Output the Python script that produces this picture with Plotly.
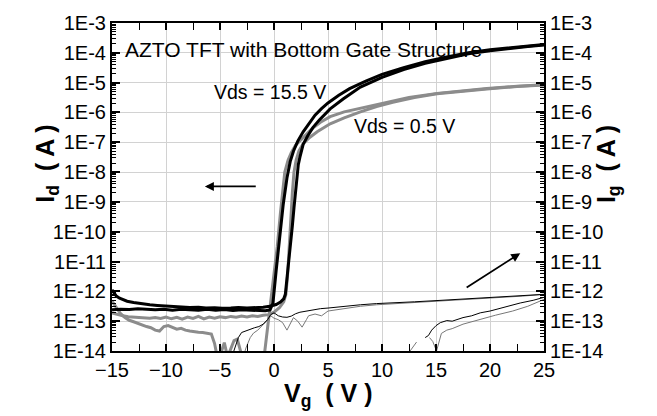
import numpy as np
import plotly.graph_objects as go

# gate voltage (V) and log10 of current (A)

# Id, Vds = 15.5 V, branch with the bump near 1 V (shifted right)
vg_hi_a = [-15, -14.8, -14.6, -14.3, -14.0, -13.6, -13.0, -12.3, -11.5, -10.8, -10.0, -9.3,
           -8.5, -7.8, -7.0, -6.3, -5.5, -4.8, -4.0, -3.3, -2.5, -1.8, -1.0, -0.4, 0.2, 0.6,
           0.9, 1.05, 1.2, 1.35, 1.5, 1.7, 1.85, 2.0, 2.1, 2.25, 2.4, 2.7, 3.1, 3.6, 4.2, 5.2,
           6.4, 8.0, 10.0, 12.0, 14.0, 16.0, 18.0, 20.0, 22.0, 23.5, 25.0]
log_id_hi_a = [-11.95, -12.08, -12.16, -12.23, -12.28, -12.33, -12.37, -12.41, -12.45, -12.47,
               -12.49, -12.51, -12.52, -12.54, -12.53, -12.56, -12.55, -12.57, -12.56, -12.54,
               -12.56, -12.55, -12.53, -12.5, -12.44, -12.36, -12.25, -12.1, -11.6, -11.0,
               -10.5, -9.8, -9.2, -8.6, -8.15, -7.75, -7.5, -7.07, -6.8, -6.51, -6.25, -5.88,
               -5.55, -5.15, -4.82, -4.56, -4.35, -4.18, -4.03, -3.93, -3.84, -3.79, -3.74]

# Id, Vds = 15.5 V, branch turning on first (shifted left)
vg_hi_b = [-15, -14.2, -13.4, -12.6, -11.8, -11.0, -10.2, -9.4, -8.6, -7.8, -7.0, -6.2, -5.4,
           -4.6, -3.8, -3.0, -2.2, -1.4, -0.8, -0.37, -0.1, 0.2, 0.5, 0.85, 1.2, 1.5, 1.8,
           2.2, 2.7, 3.2, 3.8, 4.4, 5.0, 6.0, 7.0, 8.5, 10.0, 12.0, 14.0, 16.0, 18.0, 20.0,
           22.0, 23.5, 25.0]
log_id_hi_b = [-12.62, -12.6, -12.61, -12.58, -12.6, -12.62, -12.6, -12.63, -12.6, -12.62,
               -12.63, -12.6, -12.63, -12.61, -12.64, -12.62, -12.63, -12.64, -12.65, -12.62,
               -12.4, -11.3, -10.2, -9.1, -8.2, -7.65, -7.3, -6.96, -6.65, -6.4, -6.09, -5.87,
               -5.68, -5.42, -5.2, -4.95, -4.72, -4.5, -4.3, -4.14, -4.0, -3.9, -3.82, -3.77,
               -3.72]

# Id, Vds = 0.5 V, branch dropping into the noise floor
vg_lo_a = [-15, -14.6, -14.2, -13.8, -13.4, -13.0, -12.6, -12.2, -11.8, -11.4, -11.0, -10.6,
           -10.2, -9.8, -9.4, -9.0, -8.6, -8.2, -7.8, -7.4, -7.0, -6.6, -6.2, -5.8, -5.5,
           -5.2, -4.9, -4.6, -4.3, -4.0, -3.7, -3.4, -3.1, -2.8, -2.0, -1.1, -0.85, -0.4,
           0.0, 0.3, 0.6, 1.0, 1.3, 1.6, 2.0, 2.7, 3.5, 4.3, 5.2, 6.5, 8.0, 10.4, 12.5, 15.1,
           17.5, 19.7, 22.5, 25.0]
log_id_lo_a = [-12.33, -12.55, -12.75, -12.88, -12.97, -13.02, -13.08, -13.12, -13.18, -13.22,
               -13.3, -13.33, -13.18, -13.15, -13.22, -13.27, -13.24, -13.3, -13.33, -13.36,
               -13.37, -13.38, -13.4, -13.43, -13.75, -14.3, -14.05, -13.72, -14.2, -13.9,
               -13.65, -13.6, -13.95, -14.4, -14.6, -14.8, -14.0, -12.7, -11.5, -10.5, -9.35,
               -8.0, -7.6, -7.35, -7.1, -6.84, -6.55, -6.33, -6.14, -5.98, -5.86, -5.66, -5.5,
               -5.36, -5.27, -5.2, -5.12, -5.07]

# Id, Vds = 0.5 V, flat branch with the bump near 1 V
vg_lo_b = [-15, -14.5, -14, -13.5, -13, -12.5, -12, -11.5, -11, -10.5, -10, -9.5, -9, -8.5,
           -8, -7.5, -7, -6.5, -6, -5.5, -5, -4.5, -4, -3.5, -3, -2.5, -2, -1.5, -1, -0.5,
           0, 0.5, 0.9, 1.1, 1.25, 1.4, 1.55, 1.7, 1.85, 2.05, 2.3, 2.7, 3.3, 4.0, 5.2, 6.5,
           8.0, 9.5, 11.0, 13.0, 15.1, 17.5, 19.7, 22.5, 25.0]
log_id_lo_b = [-12.72, -12.78, -12.82, -12.85, -12.86, -12.88, -12.87, -12.9, -12.88, -12.91,
               -12.86, -12.92, -12.87, -12.93, -12.86, -12.91, -12.84, -12.92, -12.86, -12.9,
               -12.85, -12.88, -12.84, -12.87, -12.83, -12.86, -12.82, -12.84, -12.8, -12.78,
               -12.7, -12.55, -12.35, -12.1, -11.5, -10.5, -9.5, -8.7, -8.0, -7.6, -7.3,
               -7.05, -6.84, -6.65, -6.38, -6.18, -5.98, -5.8, -5.66, -5.5, -5.37, -5.28,
               -5.21, -5.13, -5.08]

# Ig, upper pair (black and gray)
vg_ig_a = [-4.0, -3.7, -3.3, -3.0, -2.6, -2.2, -1.8, -1.4, -1.0, -0.6, -0.3, 0.0, 0.4, 0.8,
           1.2, 1.6, 2.0, 2.4, 3.0, 3.6, 4.3, 5.0, 6.0, 7.0, 8.0, 9.5, 11, 13, 15, 17, 19,
           21, 23, 25]
log_ig_a = [-14.3, -13.95, -13.55, -13.38, -13.32, -13.28, -13.22, -13.18, -13.1, -12.95,
            -12.78, -12.72, -12.82, -12.86, -12.87, -12.83, -12.75, -12.7, -12.66, -12.62,
            -12.58, -12.56, -12.52, -12.48, -12.45, -12.41, -12.39, -12.35, -12.31, -12.27,
            -12.23, -12.19, -12.15, -12.1]
vg_ig_b = [-3.0, -2.6, -2.2, -1.9, -1.5, -1.0, -0.65, -0.3, 0.0, 0.4, 0.8, 1.2, 1.5, 1.8,
           2.2, 2.6, 3.0, 3.2, 3.8, 4.4, 5.0, 6.0, 7.0, 8.0, 9.5, 11, 13, 15, 17, 19, 21,
           23, 25]
log_ig_b = [-14.4, -13.9, -13.55, -13.4, -13.3, -13.12, -12.98, -12.82, -12.9, -12.95,
            -13.05, -13.3, -13.1, -12.88, -13.0, -13.2, -12.95, -12.82, -12.76, -12.82,
            -12.66, -12.6, -12.55, -12.5, -12.45, -12.42, -12.38, -12.34, -12.3, -12.26,
            -12.21, -12.16, -12.1]

# Ig, lower pair (black and gray); nan marks a gap in the trace
vg_ig_c = [14.0, 14.3, 14.6, 15.0, 15.4, 16.0, 16.5, 17.0, 17.5, 18.3, 19.1, 20.0, 20.6,
           21.5, 22.8, 24.0, 25.0]
log_ig_c = [-13.55, -13.48, -13.3, -13.15, -13.05, -12.98, -13.0, -12.93, -12.88, -12.82,
            -12.72, -12.66, -12.6, -12.5, -12.39, -12.3, -12.2]
vg_ig_d = [12.6, 13.2, np.nan, 14.4, 14.7, 15.05, 15.5, 16.0, 16.5, 17.5, 18.5, 19.1, 20.5,
           22.1, 23.5, 25.0]
log_ig_d = [-14.0, -13.7, np.nan, -13.55, -13.68, -14.0, -13.41, -13.3, -13.25, -13.1, -13.0,
            -12.92, -12.8, -12.66, -12.5, -12.27]

decades = list(range(-14, -2))
tick_text = [f"1E{d}" for d in decades]

FONT = "Liberation Sans, Arial, sans-serif"
GRAY = "#8c8c8c"


def amps(logs):
    return np.power(10.0, np.array(logs, dtype=float))


fig = go.Figure()

for vg, li in [(vg_lo_a, log_id_lo_a), (vg_lo_b, log_id_lo_b)]:
    fig.add_trace(go.Scatter(x=vg, y=amps(li), mode="lines",
                             line=dict(color=GRAY, width=3)))
for vg, li in [(vg_hi_a, log_id_hi_a), (vg_hi_b, log_id_hi_b)]:
    fig.add_trace(go.Scatter(x=vg, y=amps(li), mode="lines",
                             line=dict(color="black", width=3)))
for vg, li, col in [(vg_ig_b, log_ig_b, "#777777"), (vg_ig_d, log_ig_d, "#777777"),
                    (vg_ig_a, log_ig_a, "black"), (vg_ig_c, log_ig_c, "black")]:
    fig.add_trace(go.Scatter(x=vg, y=amps(li), mode="lines", yaxis="y2",
                             line=dict(color=col, width=1)))

minor_vals = [k * 10.0 ** d for d in range(-14, -3) for k in range(2, 10)]
yax = dict(
    type="log", range=[-14, -3],
    tickmode="array", tickvals=[10.0 ** d for d in decades], ticktext=tick_text,
    ticks="inside", ticklen=8, tickwidth=1.5, tickcolor="black",
    showline=True, linewidth=2, linecolor="black",
    showgrid=True, gridcolor="#d2d2d2", gridwidth=1,
    minor=dict(tickmode="array", tickvals=minor_vals, ticks="inside", ticklen=4,
               tickwidth=1, tickcolor="black", showgrid=False),
    tickfont=dict(family=FONT, size=20, color="black"),
    zeroline=False,
)

fig.update_layout(
    width=657, height=416,
    margin=dict(l=112, r=113, t=16, b=65),
    paper_bgcolor="white", plot_bgcolor="white",
    showlegend=False,
    font=dict(family=FONT, color="black"),
    xaxis=dict(
        range=[-15, 25], tick0=-15, dtick=5,
        ticks="inside", ticklen=7, tickwidth=1.5, tickcolor="black",
        showline=True, linewidth=2, linecolor="black", mirror="allticks",
        showgrid=True, gridcolor="#d2d2d2", gridwidth=1, zeroline=False,
        minor=dict(dtick=2.5, ticks="inside", ticklen=4, tickwidth=1,
                   tickcolor="black", showgrid=False),
        tickfont=dict(family=FONT, size=20, color="black"),
    ),
    yaxis=yax,
    yaxis2=dict(yax, overlaying="y", side="right", showgrid=False),
)

fig.add_annotation(text="AZTO TFT with Bottom Gate Structure", x=-13.95, y=-3.9,
                   xanchor="left", showarrow=False, font=dict(size=21))
fig.add_annotation(text="Vds = 15.5 V", x=-5.7, y=-5.3,
                   xanchor="left", showarrow=False, font=dict(size=19.5))
fig.add_annotation(text="Vds = 0.5 V", x=7.2, y=-6.47,
                   xanchor="left", showarrow=False, font=dict(size=19.5))

# arrows pointing to the axis each curve family belongs to
fig.add_annotation(x=-6.4, y=-8.48, ax=-1.55, ay=-8.48, axref="x", ayref="y",
                   text="", showarrow=True, arrowhead=2, arrowsize=1, arrowwidth=1.8,
                   arrowcolor="black")
fig.add_annotation(x=22.8, y=-10.72, ax=17.7, ay=-11.9, axref="x", ayref="y",
                   text="", showarrow=True, arrowhead=2, arrowsize=1, arrowwidth=1.8,
                   arrowcolor="black")

title_font = dict(family=FONT, size=25, color="black")
fig.add_annotation(text="<b>I<sub>d</sub>  ( A )</b>", xref="paper", yref="paper",
                   x=-0.193, y=0.57, textangle=-90, showarrow=False, font=title_font)
fig.add_annotation(text="<b>I<sub>g</sub>  ( A )</b>", xref="paper", yref="paper",
                   x=1.19, y=0.57, textangle=-90, showarrow=False, font=title_font)
fig.add_annotation(text="<b>V<sub>g</sub>  ( V )</b>", xref="paper", yref="paper",
                   x=0.5, y=-0.135, yanchor="middle", showarrow=False, font=title_font)

fig.write_html("out.html", config={"displayModeBar": False},
               post_script="document.body.style.margin = '0';")
